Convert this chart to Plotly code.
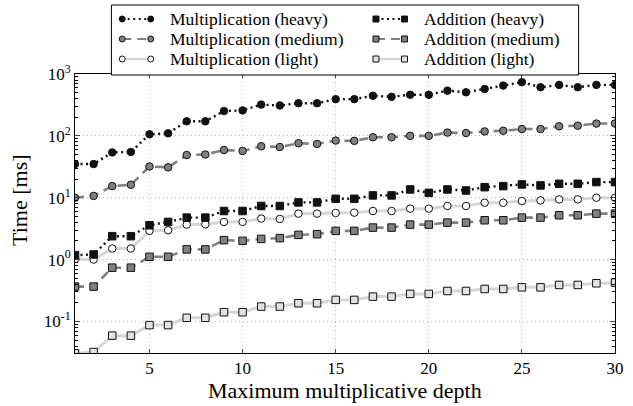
import plotly.graph_objects as go

depth = list(range(1, 31))

mult_heavy = [35, 35, 54, 55, 106, 110, 172, 172, 252, 258, 320, 310, 337, 337, 392,
              392, 445, 428, 462, 462, 538, 506, 573, 650, 738, 611, 667, 611, 667, 667]
mult_medium = [10, 10.7, 15.4, 16.2, 32, 31, 49, 50, 59, 57, 68, 66, 76, 74, 84,
               83, 95, 95, 100, 100, 113, 111, 118, 121, 129, 129, 143, 146, 158, 158]
mult_light = [1.02, 1.0, 1.51, 1.51, 2.91, 2.98, 3.68, 3.72, 4.06, 4.06, 4.6, 4.54, 5.53, 5.53, 5.67,
              5.74, 6.1, 6.1, 6.66, 6.66, 7.35, 7.35, 8.3, 8.3, 8.84, 9.06, 9.4, 9.4, 10.0, 10.0]
add_heavy = [1.18, 1.21, 2.39, 2.39, 3.59, 4.06, 4.77, 4.77, 6.1, 6.1, 7.35, 7.35, 8.4, 8.4, 9.6,
             9.6, 10.9, 10.9, 13.6, 12.0, 13.6, 13.1, 14.8, 15.4, 16.4, 15.8, 16.8, 16.8, 17.9, 17.9]
add_medium = [0.366, 0.366, 0.74, 0.74, 1.11, 1.11, 1.46, 1.46, 2.06, 2.01, 2.16, 2.22, 2.51, 2.57, 2.91,
              2.91, 3.29, 3.29, 3.68, 3.68, 3.96, 3.96, 4.32, 4.32, 4.77, 4.77, 5.2, 5.2, 5.53, 5.53]
add_light = [0.0305, 0.032, 0.059, 0.059, 0.0873, 0.0873, 0.1146, 0.1146, 0.141, 0.141, 0.174, 0.174, 0.197, 0.197, 0.223,
             0.223, 0.252, 0.252, 0.279, 0.279, 0.311, 0.311, 0.335, 0.335, 0.356, 0.356, 0.389, 0.389, 0.414, 0.424]

y_tickvals = [0.1, 1, 10, 100, 1000]
y_ticktext = ["10<sup>-1</sup>", "10<sup>0</sup>", "10<sup>1</sup>", "10<sup>2</sup>", "10<sup>3</sup>"]
x_tickvals = [5, 10, 15, 20, 25, 30]

FONT = "Liberation Serif, Times New Roman, serif"
W, H = 633, 406
ML, MR, MT, MB = 75, 9, 74, 53
PW, PH = W - ML - MR, H - MT - MB

def px(x):
    return (x - ML) / PW

def py(y):
    return (H - MB - y) / PH

# (name, values, symbol, marker fill, line colour, dash, line width, legend column, legend row)
series = [
    ("Multiplication (heavy)", mult_heavy, "circle", "#111111", "#111111", "2px,3.5px", 2.4, 0, 0),
    ("Multiplication (medium)", mult_medium, "circle", "#808080", "#808080", "9px,6px", 2.6, 0, 1),
    ("Multiplication (light)", mult_light, "circle", "#ffffff", "#d6d6d6", "solid", 3, 0, 2),
    ("Addition (heavy)", add_heavy, "square", "#111111", "#111111", "2px,3.5px", 2.4, 1, 0),
    ("Addition (medium)", add_medium, "square", "#808080", "#808080", "9px,6px", 2.6, 1, 1),
    ("Addition (light)", add_light, "square", "#e2e2e2", "#d6d6d6", "solid", 3, 1, 2),
]

fig = go.Figure()
for name, vals, sym, mcol, lcol, dash, lw, col, row in series:
    fig.add_trace(go.Scatter(
        x=depth, y=vals, name=name, mode="lines+markers", showlegend=False,
        line=dict(color=lcol, dash=dash, width=lw),
        marker=dict(symbol=sym, size=7.5, color=mcol, line=dict(color="#111111", width=1)),
    ))

# custom legend (two sample markers joined by the line style, like the original)
shapes = [dict(type="rect", xref="paper", yref="paper",
               x0=px(112), x1=px(587), y0=py(75), y1=py(5),
               fillcolor="white", line=dict(color="black", width=1), layer="above")]
annotations = []
col_marker = [(123, 152, 170), (381, 410, 428)]
row_y = [19, 39, 59]
for name, vals, sym, mcol, lcol, dash, lw, col, row in series:
    xa, xb, xt = col_marker[col]
    yy = py(row_y[row])
    shapes.append(dict(type="line", xref="paper", yref="paper",
                       x0=px(xa), x1=px(xb), y0=yy, y1=yy,
                       line=dict(color=lcol, dash=dash, width=lw * 0.8), layer="above"))
    for xm in (xa, xb):
        shapes.append(dict(type="circle" if sym == "circle" else "rect",
                           xref="paper", yref="paper", xsizemode="pixel", ysizemode="pixel",
                           xanchor=px(xm), yanchor=yy, x0=-3, x1=3, y0=-3, y1=3,
                           fillcolor=mcol, line=dict(color="#111111", width=1), layer="above"))
    annotations.append(dict(text=name, xref="paper", yref="paper", x=px(xt), y=yy,
                            xanchor="left", yanchor="middle", showarrow=False,
                            font=dict(family=FONT, size=17.5, color="black")))

# axis titles placed exactly as in the original
annotations.append(dict(text="Maximum multiplicative depth", xref="paper", yref="paper",
                        x=0.5, y=py(390), xanchor="center", yanchor="middle", showarrow=False,
                        font=dict(family=FONT, size=22, color="black")))
annotations.append(dict(text="Time [ms]", xref="paper", yref="paper",
                        x=px(18), y=py(200), xanchor="center", yanchor="middle", showarrow=False,
                        textangle=-90, font=dict(family=FONT, size=22, color="black")))

fig.update_layout(
    width=W, height=H,
    margin=dict(l=ML, r=MR, t=MT, b=MB),
    paper_bgcolor="white", plot_bgcolor="white",
    font=dict(family=FONT, size=16, color="black"),
    showlegend=False,
    shapes=shapes, annotations=annotations,
)

minor_vals = [m * 10 ** e for e in range(-2, 3) for m in range(2, 10)]
fig.update_xaxes(
    range=[1, 30], tickvals=x_tickvals, ticks="inside", ticklen=4,
    showline=True, linecolor="black", linewidth=1, mirror="ticks",
    showgrid=True, gridcolor="#bbbbbb", griddash="1px,3px", gridwidth=1,
    zeroline=False, tickfont=dict(family=FONT, size=17),
)
fig.update_yaxes(
    type="log", range=[-1.51, 3], tickvals=y_tickvals, ticktext=y_ticktext,
    ticks="inside", ticklen=5,
    minor=dict(ticks="inside", ticklen=3, tickcolor="black", tickvals=minor_vals, showgrid=False),
    showline=True, linecolor="black", linewidth=1, mirror="ticks",
    showgrid=True, gridcolor="#bbbbbb", griddash="1px,3px", gridwidth=1,
    zeroline=False, tickfont=dict(family=FONT, size=17),
)

fig.write_html("out.html", config={"displayModeBar": False},
               post_script="document.body.style.margin='0';document.body.style.padding='0';")
